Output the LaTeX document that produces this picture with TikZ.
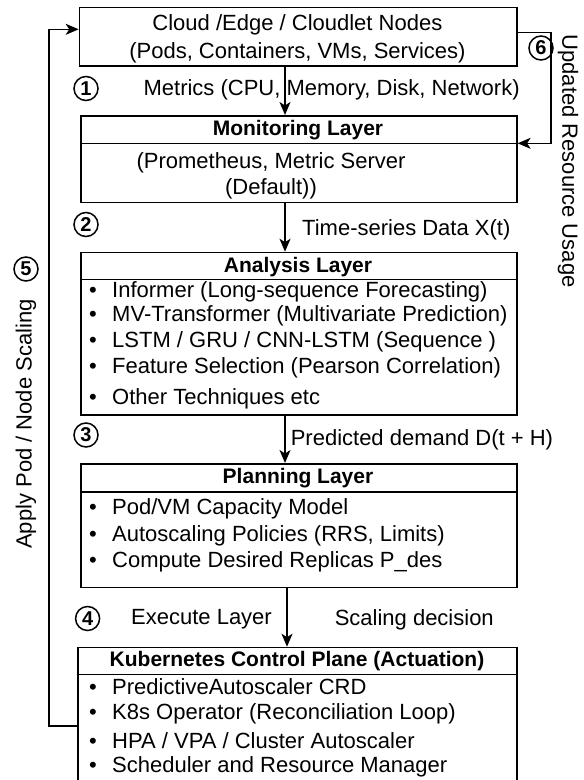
\documentclass[tikz,border=0pt]{standalone}
\usepackage{fontspec}
\setmainfont{Liberation Sans}
\usetikzlibrary{arrows.meta}
\begin{document}
\begin{tikzpicture}[x=1pt,y=-1pt,
  box/.style={draw, line width=1.6pt, rectangle, inner sep=0pt, anchor=north west},
  txt/.style={inner sep=0pt, font=\fontsize{22}{26.5}\selectfont},
  hdr/.style={inner sep=0pt, font=\fontsize{21}{26}\selectfont\bfseries},
  itm/.style={inner sep=0pt, anchor=west, font=\fontsize{22}{26}\selectfont},
  cnum/.style={draw, circle, line width=1.5pt, inner sep=0pt, minimum size=24pt, font=\fontsize{20}{20}\selectfont\bfseries},
  conn/.style={line width=1.6pt},
  arr/.style={line width=1.6pt, -{Stealth[length=13pt,width=11pt,inset=3.5pt]}}]
\clip (0,0) rectangle (584,780);
\fill[white] (0,0) rectangle (584,780);
% boxes
\node[box, minimum width=437.3pt, minimum height=58.3pt] (cloud) at (78.7,6.7) {};
\node[box, minimum width=436pt, minimum height=86.7pt] (mon) at (80,115) {};
\node[box, minimum width=436pt, minimum height=162.3pt] (ana) at (80,251.7) {};
\node[box, minimum width=436pt, minimum height=123.7pt] (plan) at (80,463) {};
\node[box, minimum width=439pt, minimum height=150pt] (k8s) at (77,646.7) {};
% header dividers
\coordinate (d1) at (0,143.3);
\coordinate (d2) at (0,279.3);
\coordinate (d3) at (0,491.7);
\coordinate (d4) at (0,674.3);
\draw[conn] (mon.west |- d1) -- (mon.east |- d1);
\draw[conn] (ana.west |- d2) -- (ana.east |- d2);
\draw[conn] (plan.west |- d3) -- (plan.east |- d3);
\draw[conn] (k8s.west |- d4) -- (k8s.east |- d4);
% texts
\node[txt] (c1) at (297.4,24.5) {Cloud /Edge / Cloudlet Nodes};
\node[txt] (c2) at (297.4,53) {(Pods, Containers, VMs, Services)};
\node[hdr] (mh) at (298,130.5) {Monitoring Layer};
\node[txt, align=center] (mt) at (271,176) {(Prometheus, Metric Server\\(Default))};
\node[hdr] (ah) at (298,266.8) {Analysis Layer};
\node[itm] (a1) at (89,292) {\makebox[23pt][l]{•}Informer (Long-sequence Forecasting)};
\node[itm] (a2) at (89,316) {\makebox[23pt][l]{•}MV-Transformer (Multivariate Prediction)};
\node[itm] (a3) at (89,342) {\makebox[23pt][l]{•}LSTM / GRU / CNN-LSTM (Sequence )};
\node[itm] (a4) at (89,368) {\makebox[23pt][l]{•}Feature Selection (Pearson Correlation)};
\node[itm] (a5) at (89,399) {\makebox[23pt][l]{•}Other Techniques etc};
\node[hdr] (ph) at (298,478.5) {Planning Layer};
\node[itm] (p1) at (89,509) {\makebox[23pt][l]{•}Pod/VM Capacity Model};
\node[itm] (p2) at (89,536) {\makebox[23pt][l]{•}Autoscaling Policies (RRS, Limits)};
\node[itm] (p3) at (89,562) {\makebox[23pt][l]{•}Compute Desired Replicas P\_des};
\node[hdr] (kh) at (297,661.5) {Kubernetes Control Plane (Actuation)};
\node[itm] (k1) at (89,687) {\makebox[23pt][l]{•}PredictiveAutoscaler CRD};
\node[itm] (k2) at (89,714) {\makebox[23pt][l]{•}K8s Operator (Reconciliation Loop)};
\node[itm] (k3) at (89,741) {\makebox[23pt][l]{•}HPA / VPA / Cluster Autoscaler};
\node[itm] (k4) at (89,767) {\makebox[23pt][l]{•}Scheduler and Resource Manager};
% connector labels
\node[itm] (l1) at (143.4,89.5) {Metrics (CPU, Memory, Disk, Network)};
\node[itm] (l2) at (302,229.5) {Time-series Data X(t)};
\node[itm] (l3) at (290.6,439.5) {Predicted demand D(t + H)};
\node[itm] (l4a) at (131,619.5) {Execute Layer};
\node[itm] (l4b) at (334.6,619.5) {Scaling decision};
\node[txt, rotate=-90] (l6) at (568,161) {Updated Resource Usage};
\node[txt, rotate=90] (l5) at (26,424) {Apply Pod / Node Scaling};
% circled numbers
\node[cnum] (n1) at (86,88.5) {1};
\node[cnum] (n2) at (86,224.5) {2};
\node[cnum] (n3) at (86,435) {3};
\node[cnum] (n4) at (87.6,618.5) {4};
\node[cnum] (n5) at (26,269) {5};
\node[cnum] (n6) at (541,48) {6};
% main arrows
\coordinate (ax) at (285,0);
\coordinate (bx) at (287,0);
\draw[arr] (cloud.south -| ax) -- (mon.north -| ax);
\draw[arr] (mon.south -| ax) -- (ana.north -| ax);
\draw[arr] (ana.south -| ax) -- (plan.north -| ax);
\draw[arr] (plan.south -| bx) -- (k8s.north -| bx);
% feedback loops
\coordinate (lx) at (49,0);
\coordinate (ly1) at (0,726);
\coordinate (ly2) at (0,29.3);
\draw[arr] (k8s.west |- ly1) -| (lx |- ly2) -- (cloud.west |- ly2);
\coordinate (rx) at (551,0);
\coordinate (ry1) at (0,32.3);
\draw[arr] (cloud.east |- ry1) -| (rx |- d1) -- (mon.east |- d1);
\end{tikzpicture}
\end{document}
